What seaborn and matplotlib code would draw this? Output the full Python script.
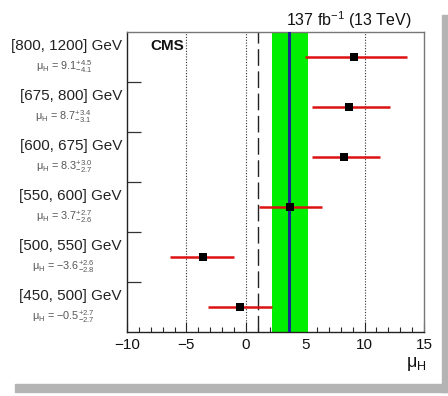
import matplotlib
matplotlib.use("Agg")
import matplotlib.pyplot as plt
import matplotlib.patches as mpatches
import matplotlib.transforms as mtransforms
from matplotlib.ticker import MultipleLocator
import numpy as np
import pandas as pd
import seaborn as sns

# Signal strength per m(HH) bin
bins = ["[800, 1200] GeV", "[675, 800] GeV", "[600, 675] GeV",
        "[550, 600] GeV", "[500, 550] GeV", "[450, 500] GeV"]
mu = [9.1, 8.7, 8.3, 3.7, -3.6, -0.5]
err_up = [4.5, 3.4, 3.0, 2.7, 2.6, 2.7]
err_dn = [4.1, 3.1, 2.7, 2.6, 2.8, 2.7]

# Combined result and its uncertainty band
mu_comb = 3.65
band_lo = 2.2
band_hi = 5.25
mu_sm = 1.0

x_ticks = [-10, -5, 0, 5, 10, 15]

sns.set_theme(style="white")
plt.rcParams["font.family"] = ["Liberation Sans", "DejaVu Sans"]
plt.rcParams["mathtext.fontset"] = "custom"
plt.rcParams["mathtext.rm"] = "Liberation Sans"
plt.rcParams["mathtext.it"] = "Liberation Sans"
plt.rcParams["mathtext.bf"] = "Liberation Sans:bold"
plt.rcParams["mathtext.default"] = "regular"

df = pd.DataFrame({"bin": bins, "mu": mu, "up": err_up, "dn": err_dn})
df["pos"] = np.arange(len(df))
df["lo"] = df["mu"] - df["dn"]
df["hi"] = df["mu"] + df["up"]

fig = plt.figure(figsize=(4.48, 3.96), dpi=100)
fig.patch.set_facecolor("white")

# drop shadow around the canvas
fig.patches.append(mpatches.Rectangle((442 / 448, 4 / 396), 6 / 448, 377 / 396,
                                      transform=fig.transFigure, color="#b4b4b4", zorder=0))
fig.patches.append(mpatches.Rectangle((15 / 448, 4 / 396), 433 / 448, 8 / 396,
                                      transform=fig.transFigure, color="#b4b4b4", zorder=0))

ax = fig.add_axes([127 / 448, 1 - 332 / 396, 297 / 448, 300 / 396])
ax.set_facecolor("white")

ax.axvspan(band_lo, band_hi, color="#00ee00", zorder=1, lw=0)
for xv in [-5, 0, 5, 10]:
    ax.axvline(xv, color="#333333", ls=(0, (1, 1.5)), lw=0.8, zorder=0.5)
ax.axvline(mu_sm, color="#222222", ls=(0, (12, 4)), lw=1.0, zorder=2)

ax.hlines(df["pos"], df["lo"], df["hi"], color="#dd1111", lw=1.8, zorder=3)
ax.axvline(mu_comb, color="#1a2a8c", lw=2.2, zorder=4)
sns.scatterplot(data=df, x="mu", y="pos", marker="s", s=38, color="black",
                edgecolor="black", linewidth=0, zorder=5, ax=ax, legend=False)

ax.set_xlim(-10, 15)
ax.set_ylim(5.5, -0.5)
ax.set_xlabel("")
ax.set_ylabel("")

ax.xaxis.set_major_locator(MultipleLocator(5))
ax.xaxis.set_minor_locator(MultipleLocator(1))
ax.set_xticks(x_ticks)
ax.set_xticklabels([str(t).replace("-", "\u2212") for t in x_ticks], fontsize=11, color="#111111")
ax.tick_params(axis="x", which="major", direction="in", length=7, width=0.8, bottom=True, pad=4)
ax.tick_params(axis="x", which="minor", direction="in", length=3.5, width=0.8, bottom=True)

ax.set_yticks(np.arange(0.5, 5.0, 1.0))
ax.set_yticklabels([])
ax.tick_params(axis="y", which="major", direction="in", length=10, width=0.9, left=True, color="#333333")

for side in ["left", "bottom"]:
    ax.spines[side].set_color("#222222")
    ax.spines[side].set_linewidth(1.0)
for side in ["top", "right"]:
    ax.spines[side].set_color("#777777")
    ax.spines[side].set_linewidth(1.0)

trans = mtransforms.blended_transform_factory(ax.transAxes, ax.transData)
for _, r in df.iterrows():
    ax.text(-0.017, r["pos"] - 0.22, r["bin"], transform=trans, ha="right", va="center",
            fontsize=11, color="#222222")
    val = f"{r['mu']:.1f}".replace("-", "\u2212")
    ax.text(-0.213, r["pos"] + 0.19,
            "$\\mu_{H}$ = " + val + "$^{+%.1f}_{\u2212%.1f}$" % (r["up"], r["dn"]),
            transform=trans, ha="center", va="center", fontsize=7.8, color="#555555")

ax.text(0.08, 0.955, "CMS", transform=ax.transAxes, ha="left", va="center",
        fontsize=11, fontweight="bold", color="#111111")
fig.text(412 / 448, 1 - 20 / 396, "137 fb$^{-1}$ (13 TeV)", ha="right", va="center",
         fontsize=11.5, color="#111111")
fig.text(416 / 448, 1 - 364 / 396, "$\\mu_{H}$", ha="center", va="center",
         fontsize=13, color="#111111")

fig.savefig("out.png", dpi=100, facecolor="white")
